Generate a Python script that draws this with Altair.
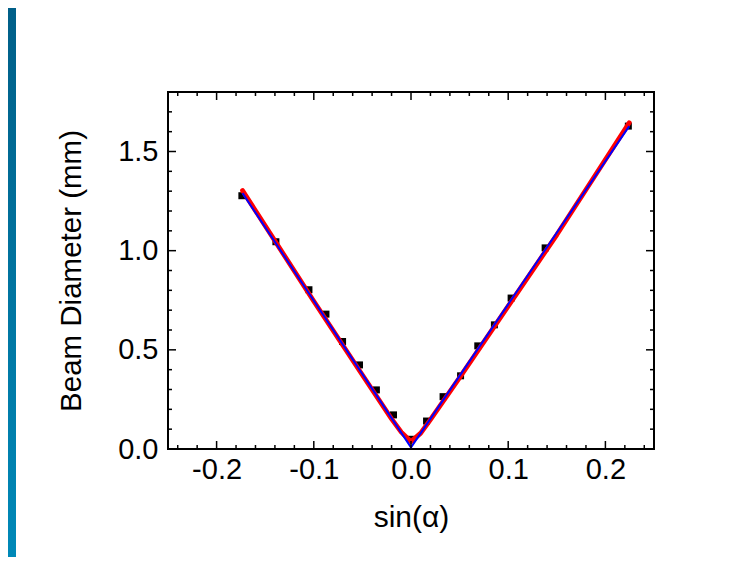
import altair as alt
import pandas as pd

# ---- data ----
pts_x = [-0.174, -0.139, -0.105, -0.0875, -0.0704, -0.053, -0.0356, -0.018, 0.0,
         0.016, 0.033, 0.051, 0.0687, 0.0858, 0.103, 0.138, 0.2236]
pts_y = [1.277, 1.045, 0.803, 0.680, 0.542, 0.424, 0.298, 0.172, 0.049,
         0.141, 0.264, 0.369, 0.520, 0.626, 0.761, 1.014, 1.628]

red_x = [-0.1733, -0.10, -0.05, -0.02, -0.01, 0.0, 0.01, 0.02, 0.05, 0.10, 0.15, 0.2245]
red_y = [1.303, 0.745, 0.373, 0.152, 0.085, 0.037, 0.080, 0.148, 0.360, 0.720, 1.080, 1.645]

blue_x = [-0.1733, 0.0, 0.2245]
blue_y = [1.290, 0.008, 1.628]

x_major = [-0.2, -0.1, 0.0, 0.1, 0.2]
x_minor = [-0.24, -0.22, -0.18, -0.16, -0.14, -0.12, -0.08, -0.06, -0.04, -0.02,
           0.02, 0.04, 0.06, 0.08, 0.12, 0.14, 0.16, 0.18, 0.22, 0.24]
y_major = [0.0, 0.5, 1.0, 1.5]
y_minor = [0.1, 0.2, 0.3, 0.4, 0.6, 0.7, 0.8, 0.9, 1.1, 1.2, 1.3, 1.4, 1.6, 1.7]

W, H = 486, 357
FONT = "Liberation Sans"

xs = alt.Scale(domain=[-0.25, 0.25], nice=False, zero=False)
ys = alt.Scale(domain=[0, 1.8], nice=False, zero=False)

pts = pd.DataFrame({"x": pts_x, "y": pts_y})
red = pd.DataFrame({"x": red_x, "y": red_y})
blue = pd.DataFrame({"x": blue_x, "y": blue_y})
xt = pd.DataFrame({"v": x_major + x_minor,
                   "len": [8] * len(x_major) + [4] * len(x_minor)})
yt = pd.DataFrame({"v": y_major + y_minor,
                   "len": [8] * len(y_major) + [4] * len(y_minor)})
one = pd.DataFrame({"a": [0]})

neg = "datum.value < 0 ? '-' + format(-datum.value, '.1f') : format(datum.value, '.1f')"

xaxis = alt.Axis(values=x_major, labelExpr=neg, ticks=False, domain=False, grid=False,
                 labelFontSize=29, labelFont=FONT, labelColor="black", labelPadding=6,
                 title="sin(α)", titleFontSize=30, titleFont=FONT, titleFontWeight="normal",
                 titleColor="black", titleY=68, titleBaseline="middle")
yaxis = alt.Axis(values=y_major, format=".1f", ticks=False, domain=False, grid=False,
                 labelFontSize=29, labelFont=FONT, labelColor="black", labelPadding=10,
                 title="Beam Diameter (mm)", titleFontSize=29.5, titleFont=FONT,
                 titleFontWeight="normal", titleColor="black", titleX=-97,
                 titleBaseline="middle")

grad = alt.LinearGradient(gradient="linear",
                          stops=[alt.GradientStop(color="#005f88", offset=0),
                                 alt.GradientStop(color="#0089b8", offset=1)],
                          x1=0, x2=0, y1=0, y2=1)
band = alt.Chart(one).mark_rect(color=grad).encode(
    x=alt.value(-160), x2=alt.value(-152), y=alt.value(-84), y2=alt.value(H + 110))

points = alt.Chart(pts).mark_square(size=49, color="black", opacity=1).encode(
    x=alt.X("x:Q", scale=xs, axis=xaxis),
    y=alt.Y("y:Q", scale=ys, axis=yaxis))

red_line = alt.Chart(red).mark_line(color="#ff0000", strokeWidth=4.8, strokeCap="round",
                                    strokeJoin="round").encode(
    x=alt.X("x:Q", scale=xs), y=alt.Y("y:Q", scale=ys), order="x:Q")
blue_line = alt.Chart(blue).mark_line(color="#0000ff", strokeWidth=2).encode(
    x=alt.X("x:Q", scale=xs), y=alt.Y("y:Q", scale=ys), order="x:Q")

tick_bottom = alt.Chart(xt).transform_calculate(y0=f"{H}", y1=f"{H} - datum.len").mark_rule(
    color="black", strokeWidth=1.5).encode(
    x=alt.X("v:Q", scale=xs), y=alt.Y("y0:Q", scale=None), y2="y1:Q")
tick_top = alt.Chart(xt).transform_calculate(y0="0", y1="datum.len").mark_rule(
    color="black", strokeWidth=1.5).encode(
    x=alt.X("v:Q", scale=xs), y=alt.Y("y0:Q", scale=None), y2="y1:Q")
tick_left = alt.Chart(yt).transform_calculate(x0="0", x1="datum.len").mark_rule(
    color="black", strokeWidth=1.5).encode(
    y=alt.Y("v:Q", scale=ys), x=alt.X("x0:Q", scale=None), x2="x1:Q")
tick_right = alt.Chart(yt).transform_calculate(x0=f"{W}", x1=f"{W} - datum.len").mark_rule(
    color="black", strokeWidth=1.5).encode(
    y=alt.Y("v:Q", scale=ys), x=alt.X("x0:Q", scale=None), x2="x1:Q")

chart = alt.layer(band, points, red_line, blue_line,
                  tick_bottom, tick_top, tick_left, tick_right).properties(
    width=W, height=H,
    autosize=alt.AutoSizeParams(type="none"),
    padding={"left": 160, "top": 84, "right": 64, "bottom": 108},
    background="white",
).configure_view(stroke="black", strokeWidth=2)

chart.save("out.html", embed_options={"renderer": "svg", "actions": False})
